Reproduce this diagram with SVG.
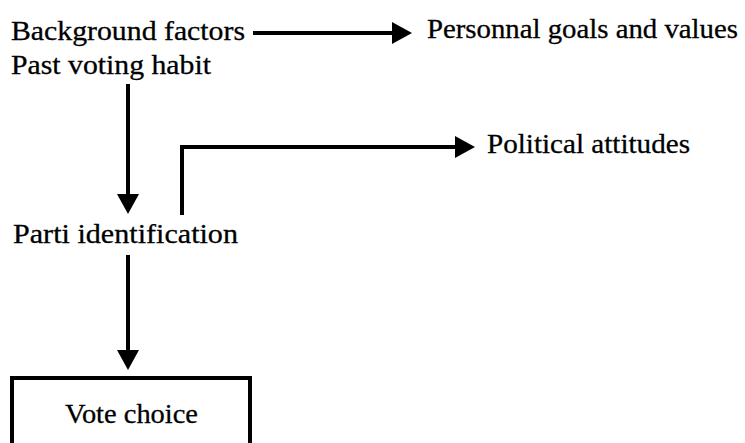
<svg xmlns="http://www.w3.org/2000/svg" width="745" height="443" viewBox="0 0 745 443">
  <style>
    .lbl { font-family: "Liberation Serif", "Times New Roman", serif; font-size: 28px; fill: #000; stroke: #000; stroke-width: 0.3; }
    .conn { fill: none; stroke: #000; stroke-width: 4; }
    .box { fill: #fff; stroke: #000; stroke-width: 4; }
  </style>
  <defs>
    <marker id="ah" markerUnits="userSpaceOnUse" markerWidth="20" markerHeight="22" refX="11" refY="11" orient="auto">
      <path d="M0,0 L20,11 L0,22 z" fill="#000"/>
    </marker>
  </defs>
  <rect width="745" height="443" fill="#fff"/>

  <g id="connectors">
    <path class="conn" d="M253,33 H403" marker-end="url(#ah)"/>
    <path class="conn" d="M128,84 V205" marker-end="url(#ah)"/>
    <path class="conn" d="M182,215 V147 H466" marker-end="url(#ah)"/>
    <path class="conn" d="M128,255 V361" marker-end="url(#ah)"/>
  </g>

  <g id="background">
    <text class="lbl" x="11" y="40" textLength="234" lengthAdjust="spacingAndGlyphs">Background factors</text>
  </g>
  <g id="past">
    <text class="lbl" x="11" y="74" textLength="200" lengthAdjust="spacingAndGlyphs">Past voting habit</text>
  </g>
  <g id="goals">
    <text class="lbl" x="427" y="38" textLength="311" lengthAdjust="spacingAndGlyphs">Personnal goals and values</text>
  </g>
  <g id="attitudes">
    <text class="lbl" x="487" y="153" textLength="203" lengthAdjust="spacingAndGlyphs">Political attitudes</text>
  </g>
  <g id="party">
    <text class="lbl" x="13" y="243" textLength="225" lengthAdjust="spacingAndGlyphs">Parti identification</text>
  </g>
  <g id="vote">
    <rect class="box" x="12" y="378" width="238" height="90"/>
    <text class="lbl" x="65" y="423" textLength="133" lengthAdjust="spacingAndGlyphs">Vote choice</text>
  </g>
</svg>
